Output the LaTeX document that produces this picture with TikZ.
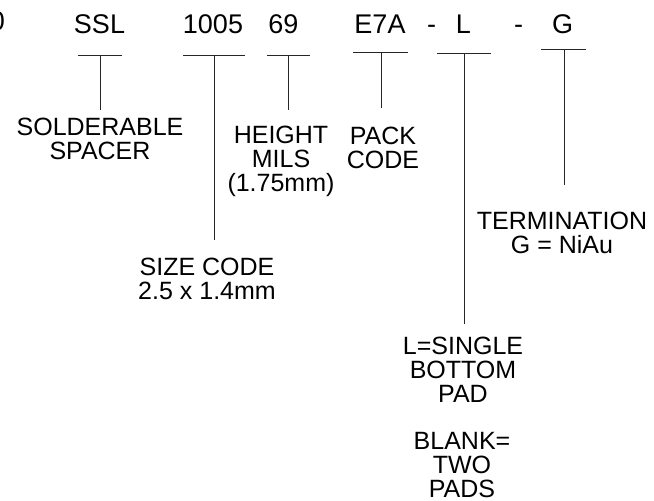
\documentclass[tikz,border=0pt]{standalone}
\usepackage{fontspec}
\setmainfont{Liberation Sans}
\usetikzlibrary{positioning}

\begin{document}
\begin{tikzpicture}[x=1pt,y=-1pt,
  partno/.style={font=\fontsize{27}{27}\selectfont,anchor=base,inner sep=0pt},
  note/.style={font=\fontsize{25}{24}\selectfont,align=center,anchor=north,inner sep=0pt},
  lead/.style={line width=1pt,draw=black!85}]
\useasboundingbox (0,0) rectangle (654,501);
% part number fields
\node[partno,anchor=base east] (cut) at (5,30) {0};
\node[partno] (ssl) at (99.5,33) {SSL};
\node[partno] (size) at (213,33) {1005};
\node[partno] (hgt) at (283.5,33) {69};
\node[partno] (pack) at (380,33) {E7A};
\node[partno] (d1) at (431.5,33) {-};
\node[partno] (pad) at (463.5,33) {L};
\node[partno] (d2) at (518.5,33) {-};
\node[partno] (term) at (562.5,33) {G};
% descriptions
\node[note] (lssl) at (100,118) {SOLDERABLE\\SPACER};
\node[note] (lhgt) at (281,126) {HEIGHT\\MILS\\(1.75mm)};
\node[note] (lpack) at (383,127) {PACK\\CODE};
\node[note] (lsize) at (207,258) {SIZE CODE\\2.5 x 1.4mm};
\node[note] (lterm) at (562,212) {TERMINATION\\G = NiAu};
\node[note] (lpad) at (463,337) {L=SINGLE\\BOTTOM\\PAD};
\node[note] (lblank) at (462,432) {BLANK=\\TWO\\PADS};
% T leaders
\coordinate (tssl) at (100,55);
\coordinate (tsize) at (214,55);
\coordinate (thgt) at (288,55);
\coordinate (tpack) at (381,52);
\coordinate (tpad) at (464,53);
\coordinate (tterm) at (564,49);
\draw[lead] ([xshift=-22pt]tssl) -- ([xshift=22pt]tssl);
\draw[lead,shorten >=8pt] (tssl) -- (tssl |- lssl.north);
\draw[lead] ([xshift=-31pt]tsize) -- ([xshift=31pt]tsize);
\draw[lead,shorten >=18pt] (tsize) -- (tsize |- lsize.north);
\draw[lead] ([xshift=-21pt]thgt) -- ([xshift=22pt]thgt);
\draw[lead,shorten >=16pt] (thgt) -- (thgt |- lhgt.north);
\draw[lead] ([xshift=-28pt]tpack) -- ([xshift=27pt]tpack);
\draw[lead,shorten >=19pt] (tpack) -- (tpack |- lpack.north);
\draw[lead] ([xshift=-27pt]tpad) -- ([xshift=27pt]tpad);
\draw[lead,shorten >=13pt] (tpad) -- (tpad |- lpad.north);
\draw[lead] ([xshift=-23pt]tterm) -- ([xshift=22pt]tterm);
\draw[lead,shorten >=27pt] (tterm) -- (tterm |- lterm.north);
\end{tikzpicture}
\end{document}
